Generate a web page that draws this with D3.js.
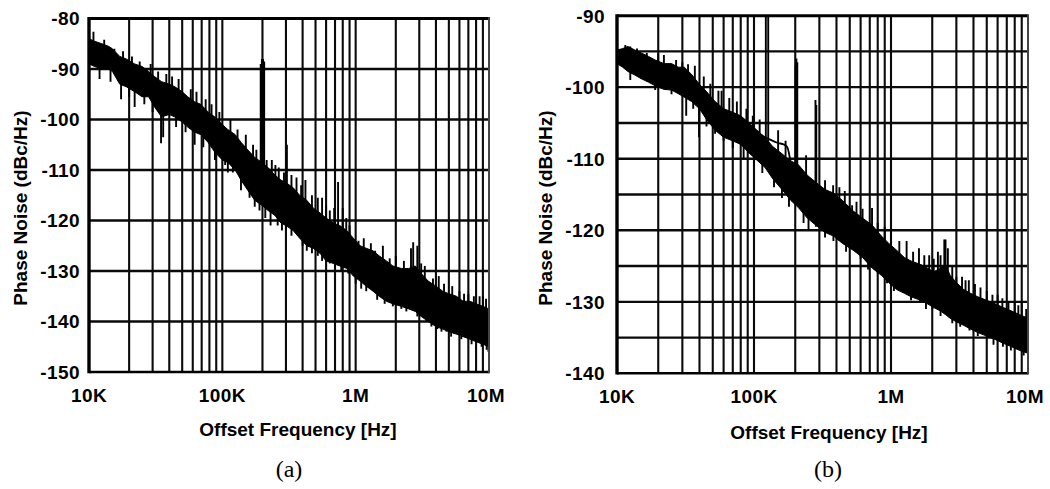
<!DOCTYPE html>
<html>
<head>
<meta charset="utf-8">
<script src="https://cdn.jsdelivr.net/npm/d3@7"></script>
<style>
  body { margin: 0; background: #fff; }
  svg { display: block; }
  .lbl { font-family: "Liberation Sans", Arial, sans-serif; font-weight: bold; fill: #000; }
  .cap { font-family: "Liberation Serif", "Times New Roman", serif; fill: #000; }
</style>
</head>
<body>
<svg id="chart" width="1050" height="489"></svg>
<script>
// x axis ticks (shared)
const xTickVals = [1e4, 1e5, 1e6, 1e7];
const xTickText = ["10K", "100K", "1M", "10M"];

// ---- panel (a): dense noise band (Hz, dBc/Hz)
const freqA = [10e3, 11e3, 12.5e3, 14e3, 15e3, 17e3, 19e3, 22e3, 25e3, 28e3, 31e3, 35e3, 40e3, 44e3, 50e3, 55e3, 62e3, 69e3, 78e3, 88e3,
  100e3, 110e3, 125e3, 138e3, 155e3, 175e3, 198e3, 220e3, 248e3, 275e3, 300e3, 340e3, 380e3, 430e3, 480e3, 540e3, 600e3, 680e3, 760e3, 860e3,
  960e3, 1.08e6, 1.2e6, 1.35e6, 1.5e6, 1.7e6, 1.9e6, 2.2e6, 2.5e6, 2.8e6, 3.1e6, 3.5e6, 4e6, 4.5e6, 5e6, 5.7e6, 6.4e6, 7.2e6, 8e6, 9e6, 10e6];
const hiA = [-84, -84.5, -85, -85.5, -86, -87.5, -88, -89, -89.5, -90.5, -91.5, -92.5, -93, -93.5, -94.5, -95.5, -96.5, -97, -98.5, -99.5,
  -101, -102, -103, -104.5, -106, -107.5, -108.5, -109.5, -111, -112, -112.5, -113.5, -115, -116, -117.5, -118.5, -119.5, -120.5, -121, -122,
  -123.5, -125, -125.5, -126, -127, -128, -129, -129.5, -129.5, -129, -130.5, -132, -133, -134, -134.5, -135, -136, -136, -136.5, -137, -137.5];
const loA = [-89, -89.5, -90, -90, -90.5, -93, -93.5, -94.5, -95.5, -95.5, -97.5, -99.5, -99, -99.5, -100.5, -101.5, -102.5, -103, -104.5, -106.5,
  -108, -108.5, -110, -112, -114, -116, -117, -118, -119, -120.5, -121, -122, -123.5, -125, -125.5, -126.5, -128, -128.5, -129, -129.5,
  -131, -132, -133, -134, -135, -136, -136.5, -137, -137.5, -138, -139, -140, -141, -141.5, -142, -142.5, -143, -143.5, -144, -144.5, -145];
// single spikes sticking out of the band: frequency, tip level
const spikeFreqA = [10.8e3, 13e3, 15.5e3, 18e3, 21e3, 24e3, 29e3, 33e3, 38e3, 42e3, 47e3, 58e3, 64e3, 75e3, 83e3, 95e3, 115e3, 130e3, 150e3, 170e3,
  194e3, 198e3, 202e3, 206e3, 235e3, 265e3, 290e3, 305e3, 330e3, 420e3, 470e3, 560e3, 640e3, 738e3, 800e3, 900e3, 1.15e6, 1.3e6, 1.6e6, 2e6, 2.6e6,
  2.7e6, 2.9e6, 3.3e6, 4.2e6, 5.3e6, 6e6, 7e6, 8.5e6, 9.5e6,
  180e3, 215e3, 250e3, 360e3, 390e3, 520e3, 600e3, 690e3, 850e3, 1.05e6, 1.4e6, 1.8e6, 2.3e6, 3.1e6, 3.8e6, 4.6e6, 6.5e6, 7.7e6, 9e6,
  12e3, 14.5e3, 17.4e3, 20e3, 22e3, 26e3, 30e3, 34.7e3, 36e3, 45e3, 53e3, 62e3, 72e3, 88e3, 105e3, 120e3, 138e3, 160e3, 175e3, 230e3,
  260e3, 300e3, 360e3, 430e3, 520e3, 640e3, 780e3, 1e6, 1.2e6, 1.45e6, 1.9e6, 2.4e6, 3.4e6, 4.1e6, 4.8e6, 5.5e6, 6.8e6, 8e6, 9.6e6, 9.9e6,
  110e3, 190e3, 210e3, 280e3, 330e3, 400e3, 470e3, 560e3, 700e3, 880e3, 1.1e6, 1.65e6, 2.2e6, 2.9e6, 3.7e6, 4.4e6, 5.2e6, 6.2e6, 7.4e6, 8.8e6];
const spikeTipA = [-82.6, -84.2, -86, -86.5, -87.5, -88.5, -89, -90.5, -91, -91.5, -92, -94, -94.5, -96, -97, -98.5, -100, -102, -103, -105,
  -89, -88, -88, -88.5, -108, -109.5, -110.5, -105, -111, -112, -115, -115.5, -118, -112.4, -117.5, -121, -123.5, -124.5, -125, -127, -125.5,
  -124.3, -125, -129, -131, -133, -134, -134.5, -135, -135.5,
  -106, -108, -109, -111.5, -113, -115.5, -117, -117.5, -119.5, -124, -126, -127.5, -128, -128.5, -131.5, -132.5, -134.5, -135, -135,
  -92, -92.5, -96, -95.5, -97.5, -97, -98.5, -104.7, -103.5, -101.5, -102.5, -105, -105.5, -108, -109, -110.5, -114, -115.5, -117.3, -121,
  -121, -122, -122.5, -126, -127, -128.5, -130, -132.5, -134, -135.7, -137, -138, -140, -141.5, -142, -142.5, -143, -144, -145.6, -146,
  -110.5, -118, -119.5, -122, -123, -125, -126.5, -128, -129.5, -130.5, -133.5, -136.5, -137.5, -139, -141, -142, -143, -143.5, -144.5, -145];

// ---- panel (b)
const freqB = [10e3, 11e3, 12e3, 13.5e3, 15e3, 17e3, 19e3, 22e3, 25e3, 28e3, 31e3, 35e3, 40e3, 45e3, 52e3, 60e3, 70e3, 80e3, 92e3, 105e3,
  120e3, 137e3, 160e3, 185e3, 210e3, 245e3, 283e3, 330e3, 380e3, 440e3, 530e3, 620e3, 730e3, 850e3, 960e3, 1.1e6, 1.25e6, 1.4e6, 1.65e6, 1.85e6,
  2.05e6, 2.3e6, 2.5e6, 2.7e6, 3e6, 3.4e6, 3.8e6, 4.3e6, 5e6, 5.8e6, 6.6e6, 7.6e6, 8.7e6, 10e6];
const hiB = [-94.8, -94.6, -94.3, -94.8, -95.2, -95.7, -96.2, -96.7, -96.7, -97.2, -97.2, -98.2, -99.6, -100.6, -102, -103, -103.5, -104, -105, -106,
  -107, -108.3, -109.3, -110.3, -110.8, -112.3, -113.3, -114.3, -114.8, -115.8, -117.3, -118.3, -119.3, -120.8, -121.8, -122.8, -123.8, -124.3, -124.8, -125.3,
  -125.8, -125.3, -124.8, -126.3, -127.3, -128.3, -128.8, -129.3, -129.8, -130.3, -130.8, -131.3, -131.8, -132.3];
const loB = [-96.7, -97.2, -97.8, -98.3, -98.8, -99.3, -99.8, -100.3, -100.4, -100.9, -101.4, -102, -103, -104.5, -106, -107, -107.5, -108, -109.2, -110.2,
  -111.2, -112.8, -114.3, -115.8, -116.8, -118.3, -119.3, -120.3, -120.8, -121.8, -122.8, -123.8, -125.3, -126.3, -127.3, -128.3, -128.8, -129.3, -129.8, -130.3,
  -130.8, -131.3, -131.8, -132.3, -132.8, -133.3, -133.8, -134.3, -134.8, -135.3, -135.8, -136.3, -136.8, -137.2];
const spikeFreqB = [11.5e3, 12.5e3, 14e3, 16.5e3, 20e3, 22e3, 27e3, 30e3, 33e3, 37e3, 43e3, 48e3, 55e3, 58e3, 66e3, 75e3, 88e3, 98e3, 110e3, 122e3,
  127e3, 150e3, 170e3, 201e3, 204e3, 207e3, 240e3, 281e3, 285e3, 378e3, 460e3, 560e3, 727e3, 800e3, 1e6, 1.3e6, 1.6e6, 1.9e6, 2.2e6, 2.45e6, 2.5e6,
  2.6e6, 3e6, 3.3e6, 3.7e6, 4.5e6, 5.5e6, 6.5e6, 8e6, 9e6,
  330e3, 420e3, 520e3, 620e3, 900e3, 1.15e6, 1.45e6, 1.75e6, 2.05e6, 2.3e6, 2.8e6, 3.5e6, 4.1e6, 5e6, 6e6, 7.2e6, 8.5e6, 9.7e6,
  12.5e3, 14.5e3, 19e3, 25e3, 32e3, 36e3, 39.7e3, 45e3, 52e3, 60e3, 70e3, 84e3, 100e3, 115e3, 140e3, 160e3, 180e3, 230e3, 283e3, 330e3,
  420e3, 528e3, 600e3, 800e3, 935e3, 1.22e6, 1.63e6, 2.01e6, 2.8e6, 3.74e6, 4.98e6, 6.56e6, 8.73e6, 10e6,
  250e3, 380e3, 470e3, 680e3, 1.05e6, 1.4e6, 1.8e6, 2.3e6, 3.2e6, 4.3e6, 5.6e6, 7.5e6, 9.3e6];
const spikeTipB = [-94.1, -94.3, -94.6, -95.2, -95.3, -95.5, -96.2, -96.5, -96.8, -97, -98.5, -99.5, -100.5, -100.5, -101.5, -102, -103, -104, -104.5, -90,
  -90, -106, -107.5, -97, -96, -96.5, -109.5, -101.8, -102.5, -113.7, -114.5, -116, -116.9, -119, -120, -121.5, -122.5, -123.5, -123, -121.3, -121.3,
  -122.5, -126.5, -126.5, -127, -128, -129, -129.5, -130, -130,
  -113, -114, -116.5, -117, -119.5, -121.5, -123, -123.5, -124, -123.5, -125, -127, -127.5, -128.5, -129, -130, -130.5, -131,
  -99, -98.5, -100.4, -101, -104, -103, -107, -105.5, -106.5, -107.5, -108.5, -110, -111, -112, -114, -115.5, -116.7, -119, -119.5, -121,
  -121.5, -122.7, -124, -126, -127.4, -128.7, -130, -131, -133, -134, -134.8, -136.3, -136.7, -137,
  -120, -121.5, -123, -125.5, -128.5, -129.8, -131, -132, -133.5, -134.8, -136, -136.8, -137.5];
// averaged trace drawn over the noise in (b)
const smoothFreqB = [60e3, 75e3, 90e3, 110e3, 130e3, 150e3, 165e3, 175e3, 185e3];
const smoothValB = [-104.5, -105, -105.8, -106.6, -107.3, -107.8, -108, -108.4, -110.5];

const svg = d3.select("#chart");

function drawPanel(p) {
    const x = d3.scaleLog().domain([1e4, 1e7]).range([p.left, p.right]);
    const y = d3.scaleLinear().domain(p.yDomain).range([p.bottom, p.top]);
    const g = svg.append("g");

    // vertical grid: 2..9 of each decade, plus the decades
    const vLines = [];
    [1e4, 1e5, 1e6].forEach(d => { for (let k = 2; k <= 9; k++) vLines.push(d * k); });
    vLines.push(1e5, 1e6);
    g.append("g").selectAll("line").data(vLines).join("line")
        .attr("x1", d => x(d)).attr("x2", d => x(d))
        .attr("y1", p.top).attr("y2", p.bottom)
        .attr("stroke", "#0a0a0a").attr("stroke-width", 2.1);

    // horizontal grid
    const hLines = d3.range(p.yDomain[0] + p.gridStep, p.yDomain[1], p.gridStep);
    g.append("g").selectAll("line").data(hLines).join("line")
        .attr("x1", p.left).attr("x2", p.right)
        .attr("y1", d => y(d)).attr("y2", d => y(d))
        .attr("stroke", "#0a0a0a").attr("stroke-width", 2.3);

    // clip for the trace
    const clipId = "clip-" + p.name;
    svg.append("clipPath").attr("id", clipId).append("rect")
        .attr("x", p.left).attr("y", p.top)
        .attr("width", p.right - p.left).attr("height", p.bottom - p.top);
    const tg = g.append("g").attr("clip-path", `url(#${clipId})`);

    const band = p.freq.map((f, i) => ({ f, hi: p.hi[i], lo: p.lo[i] }));
    tg.append("path").datum(band)
        .attr("fill", "#000")
        .attr("stroke", "#000").attr("stroke-width", 1)
        .attr("d", d3.area().x(d => x(d.f)).y0(d => y(d.lo)).y1(d => y(d.hi)));

    // spikes start from the middle of the nearest band point
    const logF = p.freq.map(f => Math.log10(f));
    const spikes = p.spikeFreq.map((f, i) => {
        const j = d3.bisectCenter(logF, Math.log10(f));
        return { f, tip: p.spikeTip[i], base: (p.hi[j] + p.lo[j]) / 2 };
    });
    tg.append("g").selectAll("line").data(spikes).join("line")
        .attr("x1", d => x(d.f)).attr("x2", d => x(d.f))
        .attr("y1", d => y(d.base)).attr("y2", d => y(d.tip))
        .attr("stroke", "#000").attr("stroke-width", 1.9);

    if (p.smoothFreq) {
        tg.append("path")
            .datum(p.smoothFreq.map((f, i) => [f, p.smoothVal[i]]))
            .attr("fill", "none").attr("stroke", "#000").attr("stroke-width", 1.8)
            .attr("d", d3.line().x(d => x(d[0])).y(d => y(d[1])).curve(d3.curveMonotoneX));
    }

    // frame
    g.append("line").attr("x1", p.left).attr("x2", p.right).attr("y1", p.top).attr("y2", p.top)
        .attr("stroke", "#000").attr("stroke-width", 3);
    g.append("line").attr("x1", p.left).attr("x2", p.right).attr("y1", p.bottom).attr("y2", p.bottom)
        .attr("stroke", "#000").attr("stroke-width", 2.6);
    g.append("line").attr("x1", p.left).attr("x2", p.left).attr("y1", p.top - 1.5).attr("y2", p.bottom + 1.3)
        .attr("stroke", "#000").attr("stroke-width", 3.4);
    g.append("line").attr("x1", p.right).attr("x2", p.right).attr("y1", p.top - 1.5).attr("y2", p.bottom + 1.3)
        .attr("stroke", "#444").attr("stroke-width", 2);

    // y tick labels
    g.append("g").selectAll("text").data(d3.range(p.yDomain[0], p.yDomain[1] + 1, 10)).join("text")
        .attr("class", "lbl")
        .attr("x", p.yLabelX).attr("y", d => y(d)).attr("dy", "0.36em")
        .attr("text-anchor", "end").style("font-size", "19px").style("letter-spacing", "0.4px")
        .text(d => d);

    // x tick labels
    g.append("g").selectAll("text").data(xTickVals).join("text")
        .attr("class", "lbl")
        .attr("x", d => x(d) - (d === 1e7 ? 3 : 0)).attr("y", p.xLabelY)
        .attr("text-anchor", "middle").style("font-size", "19px").style("letter-spacing", "0.4px")
        .text((d, i) => xTickText[i]);

    g.append("text").attr("class", "lbl")
        .attr("x", p.xTitleX).attr("y", p.xTitleY)
        .attr("text-anchor", "middle").style("font-size", "19px")
        .text("Offset Frequency [Hz]");

    g.append("text").attr("class", "lbl")
        .attr("transform", `translate(${p.yTitleX},${p.yTitleY}) rotate(-90)`)
        .attr("text-anchor", "middle").style("font-size", "19px")
        .text("Phase Noise (dBc/Hz)");

    g.append("text").attr("class", "cap")
        .attr("x", p.capX).attr("y", 477)
        .attr("text-anchor", "middle").style("font-size", "24px")
        .text(p.caption);
}

drawPanel({
    name: "a", left: 89, right: 489, top: 18.5, bottom: 372,
    yDomain: [-150, -80], gridStep: 10,
    freq: freqA, hi: hiA, lo: loA, spikeFreq: spikeFreqA, spikeTip: spikeTipA,
    yLabelX: 80, xLabelY: 402, xTitleX: 298, xTitleY: 436,
    yTitleX: 27, yTitleY: 208, capX: 289, caption: "(a)"
});

drawPanel({
    name: "b", left: 617, right: 1028, top: 15.7, bottom: 373.3,
    yDomain: [-140, -90], gridStep: 5,
    freq: freqB, hi: hiB, lo: loB, spikeFreq: spikeFreqB, spikeTip: spikeTipB,
    smoothFreq: smoothFreqB, smoothVal: smoothValB,
    yLabelX: 605, xLabelY: 403, xTitleX: 829, xTitleY: 439,
    yTitleX: 552, yTitleY: 208, capX: 828, caption: "(b)"
});
</script>
</body>
</html>
